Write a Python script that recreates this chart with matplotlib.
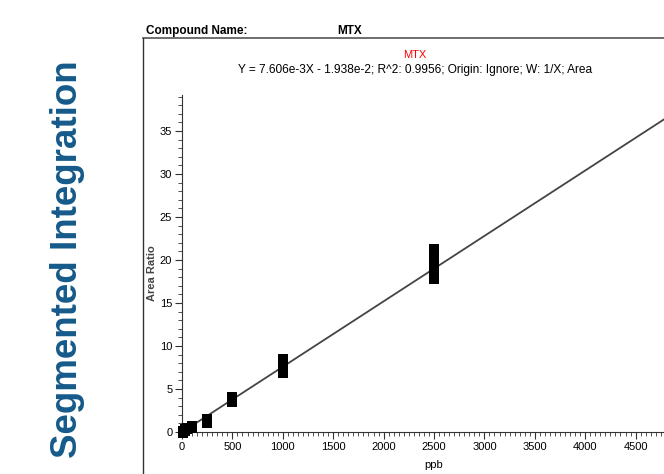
import matplotlib
matplotlib.use("Agg")
from matplotlib import pyplot as plt
from matplotlib.ticker import MultipleLocator
import numpy as np

conc = [10, 10, 10, 25, 25, 25, 50, 50, 50, 100, 100, 100,
        250, 250, 250, 500, 500, 500, 1000, 1000, 1000, 2500, 2500, 2500, 2500]
ratio = [-0.1, 0.0, 0.1, 0.1, 0.2, 0.3, 0.3, 0.4, 0.5, 0.5, 0.6, 0.7,
         1.1, 1.3, 1.5, 3.5, 3.8, 4.1, 6.9, 7.7, 8.5, 17.8, 19.0, 20.1, 21.3]
slope = 7.606e-3
intercept = -1.938e-2
compound = "MTX"
equation = "Y = 7.606e-3X - 1.938e-2; R^2: 0.9956; Origin: Ignore; W: 1/X; Area"

plt.rcParams["font.family"] = ["Liberation Sans", "DejaVu Sans"]

fig = plt.figure(figsize=(6.64, 4.74), dpi=100)

# side title
fig.text(68/664, 1-259/474, "Segmented Integration", rotation=90, color="#155a8a",
         fontsize=26.5, fontweight="bold", ha="center", va="center")

# report header
fig.text(146/664, 1-31/474, "Compound Name:", fontsize=8.5, fontweight="bold", va="center")
fig.text(337/664, 1-31/474, compound, fontsize=8.5, fontweight="bold", va="center")
fig.add_artist(plt.Line2D([143/664, 1], [1-38/474]*2, color="#555555", lw=1.2))
fig.add_artist(plt.Line2D([143/664, 143/664], [0, 1-38/474], color="#333333", lw=1.0))
fig.text(415/664, 1-55/474, compound, color="red", fontsize=8, ha="center", va="center")
fig.text(415/664, 1-70/474, equation, fontsize=8.6, ha="center", va="center")

# axes: 0 at x=182px, 1000 units = 100.8px; 0 at y=432px, 1 unit = 8.6px
x0, y0 = 182, 432
xmax = 5000
ymax = 39.2
ax = fig.add_axes([x0/664, (474-y0)/474, xmax*0.1008/664, ymax*8.6/474])
ax.set_xlim(0, xmax)
ax.set_ylim(0, ymax)

xs = np.array([0, xmax])
ax.plot(xs, slope*xs + intercept, color="#444444", lw=1.3, zorder=2, clip_on=False)
ax.plot(conc, ratio, "s", color="black", ms=7.8, mew=0, zorder=3, clip_on=False)

for s in ["top", "right"]:
    ax.spines[s].set_visible(False)
for s in ["left", "bottom"]:
    ax.spines[s].set_color("#333333")

ax.xaxis.set_minor_locator(MultipleLocator(50))
ax.yaxis.set_major_locator(MultipleLocator(5))
ax.yaxis.set_minor_locator(MultipleLocator(1))
ax.set_xticks(np.arange(0, 5000, 500))
ax.tick_params(which="major", length=5, labelsize=8, pad=2, color="#333333")
ax.tick_params(which="minor", length=3, color="#333333")

ax.set_xlabel("ppb", fontsize=8, labelpad=6)
ax.set_ylabel("Area Ratio", fontsize=8, fontweight="bold", color="#444444", labelpad=0)
ax.yaxis.set_label_coords(-0.05, 0.47)

fig.savefig("out.png", dpi=100)
